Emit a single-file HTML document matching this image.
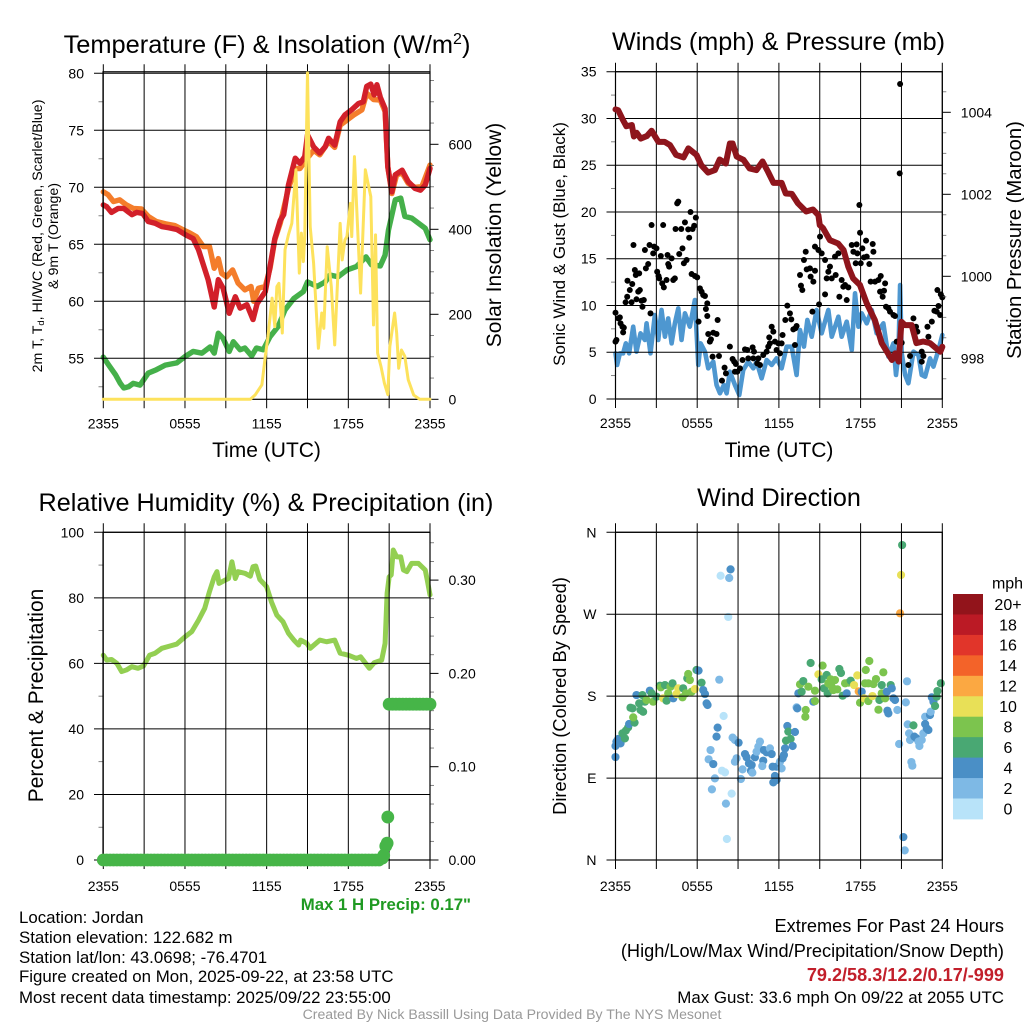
<!DOCTYPE html>
<html lang="en">
<head>
<meta charset="utf-8">
<title>Jordan Station Meteogram</title>
<style>
html,body{margin:0;padding:0;background:#fff;width:1024px;height:1024px;overflow:hidden}
svg{display:block}
text{font-family:"Liberation Sans",Arial,sans-serif;fill:#000}
</style>
</head>
<body>
<svg id="page" xmlns="http://www.w3.org/2000/svg" width="1024" height="1024" viewBox="0 0 1024 1024">
<rect width="1024" height="1024" fill="#fff"/>
<g id="p1"></g>
<g id="p2"></g>
<g id="p3"></g>
<g id="p4"></g>
<g id="legend"></g>

<text x="267" y="53" text-anchor="middle" font-size="25.4">Temperature (F) &amp; Insolation (W/m<tspan font-size="16" dy="-9">2</tspan><tspan dy="9">)</tspan></text>
<text x="778.5" y="50" text-anchor="middle" font-size="25.2">Winds (mph) &amp; Pressure (mb)</text>
<text x="266" y="511" text-anchor="middle" font-size="25.2">Relative Humidity (%) &amp; Precipitation (in)</text>
<text x="779" y="506" text-anchor="middle" font-size="25.2">Wind Direction</text>

<text transform="translate(42,236) rotate(-90)" text-anchor="middle" font-size="14.2">2m T, T<tspan font-size="9.5" dy="2">d</tspan><tspan dy="-2">, HI/WC (Red, Green, Scarlet/Blue)</tspan></text>
<text transform="translate(58,236) rotate(-90)" text-anchor="middle" font-size="14.2">&amp; 9m T (Orange)</text>
<text transform="translate(501,235) rotate(-90)" text-anchor="middle" font-size="21">Solar Insolation (Yellow)</text>
<text x="266.5" y="457" text-anchor="middle" font-size="21">Time (UTC)</text>
<text x="779" y="457" text-anchor="middle" font-size="21">Time (UTC)</text>
<text transform="translate(565,244) rotate(-90)" text-anchor="middle" font-size="17">Sonic Wind &amp; Gust (Blue, Black)</text>
<text transform="translate(1021,240) rotate(-90)" text-anchor="middle" font-size="20.3">Station Pressure (Maroon)</text>
<text transform="translate(43,695.5) rotate(-90)" text-anchor="middle" font-size="21">Percent &amp; Precipitation</text>
<text transform="translate(566,696) rotate(-90)" text-anchor="middle" font-size="18.3">Direction (Colored By Speed)</text>

<text x="471" y="910" text-anchor="end" font-size="16.8" font-weight="bold" style="fill:#1f9a22">Max 1 H Precip: 0.17"</text>
<text x="19" y="923" font-size="16.85">Location: Jordan</text>
<text x="19" y="943" font-size="16.85">Station elevation: 122.682 m</text>
<text x="19" y="963" font-size="16.85">Station lat/lon: 43.0698; -76.4701</text>
<text x="19" y="982" font-size="16.85">Figure created on Mon, 2025-09-22, at 23:58 UTC</text>
<text x="19" y="1003" font-size="16.85">Most recent data timestamp: 2025/09/22 23:55:00</text>
<text x="1004" y="932" text-anchor="end" font-size="18.2">Extremes For Past 24 Hours</text>
<text x="1004" y="957" text-anchor="end" font-size="18.2">(High/Low/Max Wind/Precipitation/Snow Depth)</text>
<text x="1004" y="981" text-anchor="end" font-size="18.1" font-weight="bold" style="fill:#c21f2b">79.2/58.3/12.2/0.17/-999</text>
<text x="1004" y="1003" text-anchor="end" font-size="16.9">Max Gust: 33.6 mph On 09/22 at 2055 UTC</text>
<text x="512" y="1019" text-anchor="middle" font-size="14.1" style="fill:#999">Created By Nick Bassill Using Data Provided By The NYS Mesonet</text>
</svg>
<script>
// ---------- shared axis data ----------
const gridHours = [0,3,6,9,12,15,18,21,24];
const timeLabelHours = [0,6,12,18,24];
const timeLabels = ['2355','0555','1155','1755','2355'];

// ---------- temperature panel ----------
const tempTicks = [55,60,65,70,75,80];
const tempMinorTicks = [52.5,57.5,62.5,67.5,72.5,77.5];
const solarTicks = [0,200,400,600];
const solarMinorTicks = [50,100,150,250,300,350,450,500,550,650,700,750];
const airHours = [0,.25,.6,1.1,1.5,2.1,2.45,2.9,3.3,3.8,4.3,4.8,5.4,6.1,6.6,7,7.35,7.7,8.15,8.45,8.8,9.25,9.7,10.05,10.55,11,11.3,11.9,12.25,12.6,13,13.25,13.6,14.1,14.45,14.8,15,15.45,15.9,16.3,16.55,17,17.4,17.75,18.25,18.75,19.1,19.35,19.65,19.9,20.1,20.35,20.7,20.9,21.2,21.45,21.95,22.4,22.9,23.3,23.65,24];
const airTemp = [68.45,68.3,67.8,68.15,68.15,67.6,67.8,67.7,67,66.85,66.55,66.45,66.3,65.8,65.5,64.5,63.2,61.9,59.5,61.9,61.15,58.95,60.4,59.4,59.7,58.4,59.8,60.85,63.05,65.5,67.1,67.6,70.2,72.55,72.1,72.7,74.6,73.55,73,73.55,74.3,73.7,75.75,76.35,76.8,77.35,77.5,78.85,79.05,78.1,79,77.9,76.9,71.8,69.6,71.1,71.5,70.5,69.9,69.75,70.2,71.65];
const upperHours = [0,.35,.75,1.2,1.7,2.2,2.8,3.3,3.9,4.55,5.25,5.9,6.35,6.85,7.35,7.8,8.15,8.45,8.7,9.05,9.5,9.9,10.4,10.85,11.05,11.4,11.9,12.25,12.6,13,13.6,14.1,14.45,14.8,15.45,15.9,16.55,17,17.4,17.9,18.4,19,19.35,19.85,20.35,20.7,20.9,21.2,21.55,21.95,22.4,22.9,23.4,24];
const upperTemp = [69.6,69.35,68.75,68.9,68.45,68.15,68.1,67.45,67,66.8,66.65,66.25,66,65.65,64.8,64.8,62.9,63.75,62.45,62.15,62.75,61.6,61,61.3,60,61.15,61.3,62.9,65.4,66.85,69.9,71.65,71.65,72.25,73.25,72.85,74,73.5,75.45,75.9,76.35,76.8,78.25,77.7,77.65,76.65,71.8,69.45,71.1,71.25,70.35,70,70.05,71.95];
const dewHours = [0,.4,.9,1.25,1.5,1.85,2.2,2.7,3.3,3.9,4.55,5.4,6,6.6,7.25,7.85,8.15,8.45,8.8,9.25,9.55,10.05,10.4,10.9,11.25,11.75,12.25,12.85,13.35,14,14.7,15,15.7,16.3,16.65,17.25,17.9,18.6,19.3,19.7,20.35,20.7,20.95,21.45,21.85,22.15,22.65,23.15,23.65,24];
const dewPoint = [55.1,54.4,53.55,52.8,52.4,52.5,52.8,52.65,53.7,54,54.4,54.6,55.15,55.6,55.45,56,55.45,57.2,56.75,55.6,56.45,55.75,55.9,55.2,55.9,55.75,56.9,57.8,59.25,60.25,60.85,61.7,61.3,61.7,62.3,62.15,62.75,63.05,63.9,63.2,63.1,64.05,66.25,68.9,69.05,67.45,67.3,66.85,66.4,65.4];
const solarHours = [0,10.8,11.15,11.65,11.9,12.1,12.4,12.6,12.75,12.9,13.15,13.35,13.6,13.85,14.15,14.4,14.55,14.7,14.8,15,15.2,15.45,15.8,16.05,16.2,16.45,16.75,17,17.4,17.55,17.75,17.9,18.15,18.25,18.45,18.6,18.9,19.25,19.45,19.65,19.85,20,20.15,20.4,20.65,20.9,21.05,21.4,21.55,21.7,21.9,22.15,22.4,22.8,23.25,24];
const solarValues = [0,0,10,34,101,148,238,171,265,273,156,352,387,414,540,297,391,324,383,768,406,320,120,203,167,359,265,128,414,328,375,383,461,383,571,461,250,540,508,477,175,387,109,77,38,11,124,203,156,73,116,101,46,10,0,0];

// ---------- winds panel ----------
const windTicks = [0,5,10,15,20,25,30,35];
const windMinorTicks = [2.5,7.5,12.5,17.5,22.5,27.5,32.5];
const pressureTicks = [998,1000,1002,1004];
const pressureMinorTicks = [997.5,998.5,999,999.5,1000.5,1001,1001.5,1002.5,1003,1003.5,1004.5];
const pressureHours = [0,.2,.55,.8,1.2,1.35,1.55,1.85,2.3,2.65,3.15,3.6,4,4.45,5,5.35,5.95,6.3,6.8,7.3,7.65,8.1,8.4,8.6,8.9,9.4,9.85,10.35,10.8,11.2,11.6,12.2,12.5,12.95,13.4,14,14.5,14.9,15,15.25,15.75,16.35,16.75,17.1,17.45,17.95,18.45,19.05,19.55,20.3,20.55,20.8,21,21.25,21.75,22.1,22.6,23.1,23.85,24];
const pressureValues = [1004.07,1004.05,1003.81,1003.66,1003.69,1003.41,1003.5,1003.36,1003.42,1003.55,1003.28,1003.28,1003.2,1002.96,1002.9,1003.12,1002.96,1002.71,1002.53,1002.59,1002.85,1002.75,1003.24,1003.24,1002.92,1002.84,1002.63,1002.59,1002.8,1002.55,1002.28,1002.28,1002.02,1002.01,1001.78,1001.58,1001.63,1001.49,1001.25,1001.17,1000.88,1000.8,1000.64,1000.23,999.95,999.79,999.34,998.93,998.37,997.96,998.12,997.92,998.89,998.81,998.81,998.37,998.41,998.37,998.16,998.28];
const windHours = [0,.12,.32,.56,.76,1,1.3,1.54,1.84,2.16,2.28,2.57,2.89,3.14,3.38,3.63,3.87,4.12,4.36,4.61,4.85,5.1,5.46,5.83,6.08,6.25,6.57,6.81,7.18,7.42,7.67,7.96,8.16,8.4,8.77,9.09,9.38,9.75,10.12,10.36,10.73,11.1,11.47,11.83,12.2,12.57,12.94,13.3,13.55,13.84,14.09,14.41,14.77,15.14,15.63,15.88,16.37,16.61,16.98,17.35,17.59,17.84,18.08,18.45,18.82,19.18,19.67,20.04,20.41,20.6,20.78,20.9,21.02,21.27,21.51,21.88,22.25,22.49,22.74,23.1,23.35,23.72,24];
const windSpeed = [4.88,3.64,4.88,4.88,5.95,4.88,7.73,5.06,7.02,6.31,8.09,4.88,8.98,6.31,9.52,6.66,8.62,5.95,8.09,9.69,6.31,9.16,7.73,10.58,3.64,5.95,5.06,3.28,3.99,1.5,.61,1.5,.61,2.92,1.5,.43,3.1,3.99,3.28,3.99,2.21,4.17,3.64,4.35,3.28,5.6,5.6,2.57,7.38,5.6,8.45,6.66,9.52,7.02,9.52,6.66,8.8,6.66,8.27,5.24,11.3,7.73,9.16,8.09,9.52,7.02,8.09,4.53,5.95,2.57,4.88,12.19,4.88,2.57,1.68,5.06,4.7,2.57,2.39,4.35,3.46,5.24,6.84];
const gustHours = [0,.07,0,.2,.32,.37,.51,.61,.56,.74,.86,.88,1.05,1.23,1.18,1.32,1.42,1.54,1.49,1.74,1.79,1.67,1.91,1.98,2.08,2.16,2.23,2.4,2.5,2.57,2.65,2.77,2.84,3.01,3.06,3.16,3.21,3.33,3.43,3.5,3.55,3.75,3.82,3.87,3.94,4.12,4.24,4.36,4.41,4.53,4.61,4.68,4.83,4.92,5.1,5.02,5.22,5.34,5.41,5.51,5.66,5.78,5.9,5.59,5.83,6,6.2,6.32,6.44,6.57,6.74,6.64,6.74,6.1,7.5,6.81,7.18,7.42,6.93,7.01,7.13,7.6,8.01,8.4,8.11,7.82,8.6,8.72,8.84,8.94,8.77,9.14,9.33,9.51,9.68,9.75,10.07,10.17,10.12,10.49,10.41,10.61,10.85,11.1,11.22,11.29,11.47,11.59,11.34,11.71,11.83,11.96,12.27,12.08,12.2,12.47,12.62,12.81,12.91,13.06,13.21,13.3,13.18,13.55,13.62,13.72,13.84,13.97,14.04,14.28,14.33,14.53,14.65,14.46,14.65,14.9,14.95,15.02,15.14,15.39,15.39,15.51,15.63,15.75,15.88,16.17,16.12,16.37,16.44,16.61,16.73,16.86,17.1,16.98,17.35,17.47,17.64,17.71,17.76,17.91,17.96,18.01,18.13,18.25,18.4,18.64,18.45,18.89,18.94,18.74,19.06,19.31,19.48,19.8,19.72,19.43,19.62,19.87,20.04,20.16,20.41,20.53,20.9,20.87,20.65,21.02,21.51,21.63,21.88,22.07,22.17,22.49,22.49,22.61,22.91,22.98,23.23,23.42,23.59,23.72,23.84,23.64,23.89,24];
const gustSpeed = [9.23,6.31,6.13,8.62,8.73,8.09,7.73,7.63,7.13,10.34,10.94,12.65,11.65,12.3,10.34,16.47,13.79,10.66,13.26,13.44,11.65,11.48,10.51,9.87,10.59,15.93,13.97,14.43,16.47,9.16,18.6,15.57,16.29,16.11,13.61,13.15,12.9,15.29,12.37,18.6,11.94,12.72,15.4,14.43,14.15,15.04,12.72,12.9,18.18,20.92,21.1,15.5,18.18,16.11,18.89,14.51,14.86,18.14,17.25,19.99,18.18,18.53,19.39,13.36,13.15,13,11.83,11.48,11.12,11.01,10.23,9.62,8.87,8.27,8.45,6.95,7.09,6.95,6.13,6.38,4.53,4.6,3.35,5.6,2.74,1.96,4.28,3.99,3.74,2.92,2.92,3.28,4.17,5.31,5.24,4.35,5.52,5.06,4.35,4.35,3.81,3.64,4.7,5.06,5.6,6.59,7.73,7.2,5.95,6.13,5.24,5.95,6.84,4.88,5.95,8.45,9.98,9.16,8.52,7.45,7.56,7.81,5.77,13.26,12.12,11.65,14.86,15.75,13.86,13.97,13.08,12.55,13.72,9.34,16.29,15.93,10.12,17.36,15.57,14.86,11.19,12.9,13.61,14.15,12.9,13.26,15.22,15.57,10.94,12.72,12.01,12.19,11.94,10.58,16.47,15.75,14.51,16.54,15.57,20.74,17.78,14.51,16.11,15.15,16.93,14.43,15.22,16.57,15.75,12.55,12.55,12.72,13.15,12.37,11.58,11.48,10.94,9.87,9.69,9.34,8.98,8.87,33.68,24.13,6.13,6.02,3.64,4.6,8.62,7.73,7.2,5.06,3.99,4.6,7.73,6.66,8.27,9.44,9.34,9.94,8.98,11.65,11.19,10.87];

// ---------- humidity panel ----------
const rhTicks = [0,20,40,60,80,100];
const rhMinorTicks = [10,30,50,70,90];
const precipTicks = [0,.1,.2,.3];
const precipTickLabels = ['0.00','0.10','0.20','0.30'];
const precipMinorTicks = [.02,.04,.06,.08,.12,.14,.16,.18,.22,.24,.26,.28,.32,.34];
const rhHours = [0,.25,.6,1,1.35,1.7,2.1,2.55,2.95,3.4,3.8,4.3,4.9,5.4,6,6.5,7,7.45,7.8,8.15,8.35,8.5,8.95,9.2,9.45,9.7,9.9,10.4,10.8,11,11.2,11.5,12,12.35,12.75,13.2,13.6,14,14.35,14.5,14.95,15.2,15.9,16.4,17,17.4,18,18.6,18.9,19.55,19.9,20.45,20.7,20.85,21,21.15,21.3,21.55,21.85,22.05,22.3,22.65,23.15,23.65,23.8,24];
const rhValues = [62.5,61,61.2,60,57.5,58,59,58.5,59.2,62.5,63.1,64.6,65.3,65.9,68.1,69.7,73.2,76.8,81.9,86.4,88,84.4,85.4,85.9,91,85.9,88,87.5,86.6,89.5,89.7,85.6,83.4,78.8,74.7,72.7,69.2,67.1,65.6,67.1,66.1,64.6,67.1,66.6,67.1,63.1,62.5,61.5,62,58.5,60.2,61,66.1,81.4,86.4,87,94.6,92.5,92.5,88.5,88,90.5,90.5,88.5,85.4,80.9];
const precipHours = [0,.25,.5,.75,1,1.25,1.5,1.75,2,2.25,2.5,2.75,3,3.25,3.5,3.75,4,4.25,4.5,4.75,5,5.25,5.5,5.75,6,6.25,6.5,6.75,7,7.25,7.5,7.75,8,8.25,8.5,8.75,9,9.25,9.5,9.75,10,10.25,10.5,10.75,11,11.25,11.5,11.75,12,12.25,12.5,12.75,13,13.25,13.5,13.75,14,14.25,14.5,14.75,15,15.25,15.5,15.75,16,16.25,16.5,16.75,17,17.25,17.5,17.75,18,18.25,18.5,18.75,19,19.25,19.5,19.75,20,20.25,20.5,20.6,20.75,20.85,20.9,21,21.25,21.5,21.75,22,22.25,22.5,22.75,23,23.25,23.5,23.75,24];
const precipValues = [0,0,0,0,0,0,0,0,0,0,0,0,0,0,0,0,0,0,0,0,0,0,0,0,0,0,0,0,0,0,0,0,0,0,0,0,0,0,0,0,0,0,0,0,0,0,0,0,0,0,0,0,0,0,0,0,0,0,0,0,0,0,0,0,0,0,0,0,0,0,0,0,0,0,0,0,0,0,0,0,0,0,.002,.005,.015,.018,.046,.167,.167,.167,.167,.167,.167,.167,.167,.167,.167,.167,.167,.167,.167];

// ---------- wind direction panel ----------
const dirTicks = [0,90,180,270,360];
const dirTickLabels = ['N','E','S','W','N'];
const dirHours = [0,0,.07,.2,.37,.51,.69,.76,.93,1,1.4,1.3,1.1,1.25,1.74,1.84,2.03,1.54,1.98,2.16,2.28,2.52,2.65,2.77,3.01,3.26,3.33,3.5,3.63,3.75,3.87,4.04,4.24,4.19,4.48,4.61,4.92,4.97,5.17,5.27,5.34,5.46,5.59,5.83,5.95,6.1,6.32,6.44,6.57,6.69,6.76,
7.62,7.94,7.5,7.42,6.98,6.84,7.18,7.3,7.08,7.82,8.04,8.53,8.11,8.18,7.72,8.45,8.35,8.28,8.6,8.77,9.04,8.89,8.77,9.33,9.21,9.51,9.63,9.8,10,9.95,10.05,10.24,10.36,10.49,10.61,10.85,10.78,10.9,11.1,11.34,11.47,11.54,11.71,11.59,11.83,11.83,12.08,12.2,12.27,12.37,12.45,12.62,12.69,12.52,12.86,13.01,13.18,
13.3,13.35,13.97,13.94,13.55,13.79,13.43,13.67,14.16,14.33,14.53,14.65,14.65,14.9,15.21,15.14,15.31,15.51,15.58,15.63,15.88,16,16.12,15.8,16.29,16.44,16.56,16.68,16.86,16.98,17.1,17.27,17.52,17.76,17.86,17.96,18.08,18.25,18.33,18.38,18.57,18.64,18.57,18.87,18.94,19.13,19.31,19.38,19.55,19.67,19.55,19.8,19.92,19.97,20.04,20.21,20.29,20.41,20.53,20.7,
21.05,20.97,20.9,20.83,21.14,21.24,21.32,21.41,21.46,21.88,21.56,21.63,21.95,22.12,22.25,22.32,22.49,21.73,21.8,22.61,22.74,22.74,22.86,22.98,23.1,23.15,23.23,23.35,23.47,23.59,23.64,23.89];
const dirDegrees = [113.1,125.2,130,132.9,128.1,139.1,133.6,142.1,145.7,149.4,150.9,156.7,167.3,166.6,172.1,164.8,162.9,181.2,181.2,173.9,175.8,186,183.1,173.9,179.4,191.5,189.7,177.6,192.2,175,183.1,190.4,177.6,194.1,182.3,188.6,178.7,188.6,183.1,199.6,204.3,197.7,184.9,187.8,208.7,208,194.8,186.7,182.3,172.1,170.3,
198.1,158.2,145.4,135.5,120.8,110.6,105.4,89.7,77.6,98.1,96.3,72.9,61.9,23.1,312.3,319.3,309.8,267,134.4,131.8,128.9,111.7,108,99.6,89,116.4,112.8,106.2,104.3,98.1,95.9,112.8,119,124.5,130,109.1,103.2,120.8,118.3,122.6,116.4,102.5,92.3,85.3,87.9,102.5,108,100.7,111.7,115.3,122.6,147.2,141,131.1,132.9,125.2,140.6,
167.7,166.6,164.8,157.4,193,196.6,183.1,184.9,190.4,216.4,173.9,174.6,186,203.9,213.5,198.5,188.6,203.2,183.1,194.1,190.4,186.7,197.7,198.5,187.5,209.8,205.4,180.5,194.1,183.1,194.8,197,192.2,202.8,185.3,172.8,184.9,177.6,194.1,208.7,174.6,218.6,194.1,180.1,193.3,198.8,165.1,175.8,192.2,206.2,183.1,177.6,184.9,164,161.1,192.2,188.6,177.6,175.8,164.8,
346,313.1,271,127.4,25.2,10.6,173.2,196.3,149,147.9,139.1,131.8,135.5,133.6,130,125.2,131.8,107.6,103.6,139.1,157.4,149.4,144.6,142.8,159.3,162.9,178.7,173.9,169.2,179.4,185.6,194.1];
const dirSpeeds = [5,5,5,5,5,7,7,7,7,5,7,9,7,7,7,7,7,5,7,7,9,5,7,9,7,7,9,11,7,7,9,9,5,7,11,11,9,7,9,7,9,9,9,11,7,5,7,5,5,5,5,
3,1,5,5,3,3,5,3,3,1,1,1,3,1,1,5,3,1,3,3,5,3,3,3,3,5,5,5,5,5,3,5,3,3,3,5,3,5,5,3,5,5,5,5,5,5,3,3,5,5,5,5,7,7,7,5,5,
3,5,9,9,9,7,5,7,9,7,5,9,9,11,9,7,7,7,7,9,9,9,9,9,9,7,7,7,9,5,9,7,11,11,13,9,5,11,9,9,9,9,9,11,9,9,9,7,7,9,9,9,5,5,5,7,5,5,5,3,
7,11,13,3,5,3,3,3,3,7,3,3,5,5,3,3,3,3,3,3,3,5,5,5,5,3,5,5,7,7,7,7];
const legendLabels = ['20+','18','16','14','12','10','8','6','4','2','0'];
const speedColors = ['#b8e3f9','#7eb9e5','#4a8fc6','#49a873','#7cc44e','#e8e057','#fba842','#f36329','#e1352a','#bb1a25','#92141b'];

// ---------- helpers ----------
const NS = 'http://www.w3.org/2000/svg';
function mk(tag, attrs, parent){
  const el = document.createElementNS(NS, tag);
  for (const k in attrs) el.setAttribute(k, attrs[k]);
  parent.appendChild(el);
  return el;
}
function linear(d0, d1, r0, r1){
  return v => r0 + (v - d0) * (r1 - r0) / (d1 - d0);
}
function drawLine(parent, hours, values, sx, sy, color, width, name){
  const pts = hours.map((h, i) => sx(h).toFixed(2) + ',' + sy(values[i]).toFixed(2)).join(' ');
  const el = mk('polyline', {points: pts, fill: 'none', stroke: color, 'stroke-width': width, 'stroke-linejoin': 'round', 'stroke-linecap': 'round'}, parent);
  
  
}
function drawDots(parent, hours, values, sx, sy, color, r, name){
  const g = mk('g', {fill: color}, parent);
  
  
  hours.forEach((h, i) => {
    const c = mk('circle', {cx: sx(h).toFixed(2), cy: sy(values[i]).toFixed(2), r: r}, g);
    
    
  });
}
function tickLine(parent, x1, y1, x2, y2, sw, name, color){
  const el = mk('line', {x1: x1, y1: y1, x2: x2, y2: y2, stroke: color || '#000', 'stroke-width': sw}, parent);
  
  
}
function label(parent, x, y, text, anchor, name, size){
  const el = mk('text', {x: x, y: y, 'text-anchor': anchor, 'font-size': size || 14}, parent);
  el.textContent = text;
  
  
}
function drawAxes(g, box, sx, leftScale, rightScale, leftTicks, leftLabels, leftMinor, rightTicks, rightLabels, rightMinor, extraTop){
  gridHours.forEach(h => {
    tickLine(g, sx(h), box.top - 9, sx(h), box.bottom + 9, 1, 'time-gridline');
  });
  timeLabelHours.forEach((h, i) => {
    label(g, sx(h), box.bottom + 31 - (box.bottom > 800 ? 0 : 2), timeLabels[i], 'middle', 'time-tick-label');
  });
  leftTicks.forEach((v, i) => {
    tickLine(g, box.left - 9, leftScale(v), box.right, leftScale(v), 1, 'left-gridline');
    label(g, box.left - 19, leftScale(v) + 5, leftLabels[i], 'end', 'left-tick-label');
  });
  leftMinor.forEach(v => {
    tickLine(g, box.left - 4.5, leftScale(v), box.left, leftScale(v), .8, 'left-minor-tick', '#666');
  });
  if (rightScale){
    rightTicks.forEach((v, i) => {
      tickLine(g, box.right, rightScale(v), box.right + 8.5, rightScale(v), 1, 'right-tick');
      label(g, box.right + 18.5, rightScale(v) + 5, rightLabels[i], 'start', 'right-tick-label');
    });
    rightMinor.forEach(v => {
      tickLine(g, box.right, rightScale(v), box.right + 4, rightScale(v), .8, 'right-minor-tick', '#666');
    });
  }
  const frame = mk('rect', {x: box.left, y: box.top - (extraTop || 0), width: box.right - box.left, height: box.bottom - box.top + (extraTop || 0), fill: 'none', stroke: '#000', 'stroke-width': 1.2}, g);
  
  
}

// ---------- panel 1 ----------
(function(){
  const root = document.getElementById('p1');
  const box = {left: 103, right: 430, top: 73.3, bottom: 399.3};
  const sx = linear(0, 24, box.left + .3, box.right);
  const sy = linear(55, 80, 358.3, 73.3);
  const sr = linear(0, 200, 399.3, 314.3);
  const under = mk('g', {}, root), axes = mk('g', {}, root), over = mk('g', {}, root);
  drawLine(under, upperHours, upperTemp, sx, sy, '#f47d2b', 5.4, 'nine-meter-temperature-line');
  drawLine(under, airHours, airTemp, sx, sy, '#d2202a', 5.4, 'two-meter-temperature-line');
  drawLine(under, dewHours, dewPoint, sx, sy, '#45b04a', 5.4, 'dew-point-line');
  drawAxes(axes, box, sx, sy, sr, tempTicks, tempTicks.map(String), tempMinorTicks, solarTicks, solarTicks.map(String), solarMinorTicks, 1.5);
  drawLine(over, solarHours, solarValues, sx, sr, '#fde25c', 3, 'solar-insolation-line');
})();

// ---------- panel 2 ----------
(function(){
  const root = document.getElementById('p2');
  const box = {left: 615.5, right: 942.3, top: 71.7, bottom: 399};
  const sx = linear(0, 24, box.left, box.right);
  const sy = linear(0, 35, 399, 71.7);
  const sr = linear(998, 1004, 358.3, 112.3);
  const under = mk('g', {}, root), axes = mk('g', {}, root), over = mk('g', {}, root);
  drawLine(under, windHours, windSpeed, sx, sy, '#4e97d0', 4.6, 'sonic-wind-line');
  drawDots(under, gustHours, gustSpeed, sx, sy, '#000', 3, 'wind-gust-dots');
  drawAxes(axes, box, sx, sy, sr, windTicks, windTicks.map(String), windMinorTicks, pressureTicks, pressureTicks.map(String), pressureMinorTicks);
  drawLine(over, pressureHours, pressureValues, sx, sr, '#8e151c', 6, 'station-pressure-line');
})();

// ---------- panel 3 ----------
(function(){
  const root = document.getElementById('p3');
  const box = {left: 103, right: 430, top: 532.3, bottom: 860};
  const sx = linear(0, 24, box.left + .3, box.right);
  const sy = linear(0, 100, 860, 532.3);
  const sr = linear(0, .1, 860, 766.7);
  const under = mk('g', {}, root), axes = mk('g', {}, root), over = mk('g', {}, root);
  drawLine(under, rhHours, rhValues, sx, sy, '#93cf52', 5, 'relative-humidity-line');
  drawAxes(axes, box, sx, sy, sr, rhTicks, rhTicks.map(String), rhMinorTicks, precipTicks, precipTickLabels, precipMinorTicks);
  drawDots(over, precipHours, precipValues, sx, sr, '#46b548', 6.4, 'precipitation-dots');
})();

// ---------- panel 4 ----------
(function(){
  const root = document.getElementById('p4');
  const box = {left: 615.5, right: 942.3, top: 532.3, bottom: 860};
  const sx = linear(0, 24, box.left, box.right);
  const sy = linear(0, 360, 860, 532.3);
  const under = mk('g', {}, root), axes = mk('g', {}, root);
  dirHours.forEach((h, i) => {
    const bin = Math.min(speedColors.length - 1, Math.floor(dirSpeeds[i] / 2));
    const c = mk('circle', {cx: sx(h).toFixed(2), cy: sy(dirDegrees[i]).toFixed(2), r: 4.1, fill: speedColors[bin]}, under);
    
    
  });
  drawAxes(axes, box, sx, sy, null, dirTicks, dirTickLabels, [], [], [], []);
})();

// ---------- legend ----------
(function(){
  const root = document.getElementById('legend');
  label(root, 1007.5, 588.5, 'mph', 'middle', 'legend-unit', 16);
  legendLabels.forEach((t, i) => {
    const color = speedColors[legendLabels.length - 1 - i];
    const top = 594 + i * 20.45;
    const r = mk('rect', {x: 953, y: top.toFixed(2), width: 30, height: 20.9, fill: color}, root);
    
    
    label(root, 1008, top + 15.8, t, 'middle', 'legend-label', 16);
  });
})();
</script>
</body>
</html>
